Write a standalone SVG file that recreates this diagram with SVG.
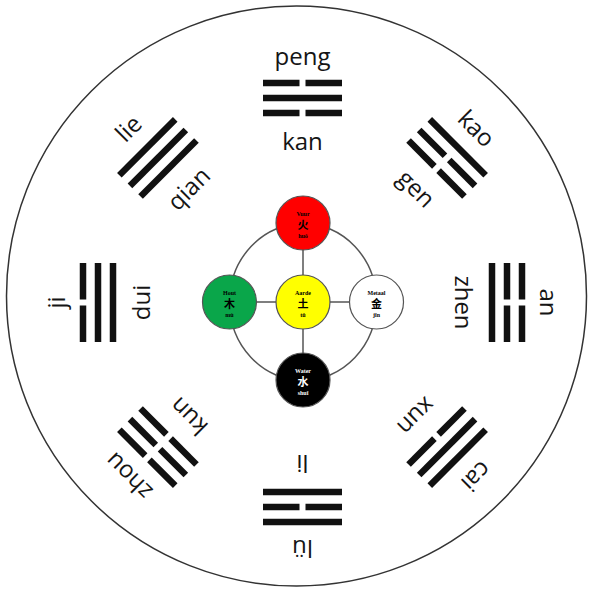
<svg xmlns="http://www.w3.org/2000/svg" xmlns:xlink="http://www.w3.org/1999/xlink" width="590" height="591" viewBox="0 0 590 591">
<style>
.bar{fill:#111}
.lbl{font-family:"Open Sans","Noto Sans",sans-serif;font-size:24px;fill:#151515;text-anchor:middle}
.conn{stroke:#555;stroke-width:1.5;fill:none}
.node{stroke:#555;stroke-width:1.2}
.nt{font-family:"Liberation Serif",serif;font-weight:bold;font-size:6px;text-anchor:middle}
.nc{font-family:"Noto Sans CJK SC","Noto Sans CJK TC",sans-serif;font-weight:bold;font-size:11px;text-anchor:middle}
</style>
<defs>
<g id="y"><rect class="bar" x="263" y="-3.25" width="79" height="6.5"/></g>
<g id="b"><rect class="bar" x="263" y="-3.25" width="36.5" height="6.5"/><rect class="bar" x="305.5" y="-3.25" width="36.5" height="6.5"/></g>
</defs>
<rect x="0" y="0" width="590" height="591" fill="#fff"/>
<circle cx="296.5" cy="296" r="290" fill="#fff" stroke="#333" stroke-width="1.5"/>

<g id="tri-kan" transform="rotate(0 302.5 302.5)">
<text class="lbl" x="302.5" y="65">peng</text>
<use xlink:href="#b" href="#b" y="83"/><use xlink:href="#y" href="#y" y="98"/><use xlink:href="#b" href="#b" y="113"/>
<text class="lbl" x="302.5" y="150">kan</text>
</g>
<g id="tri-gen" transform="rotate(45 302.5 302.5)">
<text class="lbl" x="302.5" y="65">kao</text>
<use href="#y" y="83"/><use href="#b" y="98"/><use href="#b" y="113"/>
<text class="lbl" x="302.5" y="150">gen</text>
</g>
<g id="tri-zhen" transform="rotate(90 302.5 302.5)">
<text class="lbl" x="302.5" y="65">an</text>
<use href="#b" y="83"/><use href="#b" y="98"/><use href="#y" y="113"/>
<text class="lbl" x="302.5" y="150">zhen</text>
</g>
<g id="tri-xun" transform="rotate(135 302.5 302.5)">
<text class="lbl" x="302.5" y="65">cai</text>
<use href="#y" y="83"/><use href="#y" y="98"/><use href="#b" y="113"/>
<text class="lbl" x="302.5" y="150">xun</text>
</g>
<g id="tri-li" transform="rotate(180 302.5 302.5)">
<text class="lbl" x="302.5" y="65">lü</text>
<use href="#y" y="83"/><use href="#b" y="98"/><use href="#y" y="113"/>
<text class="lbl" x="302.5" y="150">li</text>
</g>
<g id="tri-kun" transform="rotate(225 302.5 302.5)">
<text class="lbl" x="302.5" y="65">zhou</text>
<use href="#b" y="83"/><use href="#b" y="98"/><use href="#b" y="113"/>
<text class="lbl" x="302.5" y="150">kun</text>
</g>
<g id="tri-dui" transform="rotate(270 302.5 302.5)">
<text class="lbl" x="302.5" y="65">ji</text>
<use href="#b" y="83"/><use href="#y" y="98"/><use href="#y" y="113"/>
<text class="lbl" x="302.5" y="150">dui</text>
</g>
<g id="tri-qian" transform="rotate(315 302.5 302.5)">
<text class="lbl" x="302.5" y="65">lie</text>
<use href="#y" y="83"/><use href="#y" y="98"/><use href="#y" y="113"/>
<text class="lbl" x="302.5" y="150">qian</text>
</g>

<g id="connectors">
<ellipse class="conn" cx="303" cy="302" rx="73.5" ry="78.5"/>
<line class="conn" x1="303" y1="223" x2="303" y2="380"/>
<line class="conn" x1="229.5" y1="302" x2="376.5" y2="302"/>
</g>

<g id="node-fire">
<circle class="node" cx="303" cy="223" r="27" fill="#ff0000"/>
<text class="nt" x="303" y="216">Vuur</text>
<text class="nc" x="303" y="229">火</text>
<text class="nt" x="303" y="238">huǒ</text>
</g>
<g id="node-wood">
<circle class="node" cx="229.5" cy="302" r="27" fill="#0aa64a"/>
<text class="nt" x="229.5" y="295">Hout</text>
<text class="nc" x="229.5" y="308">木</text>
<text class="nt" x="229.5" y="317">mù</text>
</g>
<g id="node-earth">
<circle class="node" cx="303" cy="302" r="27" fill="#ffff00"/>
<text class="nt" x="303" y="295">Aarde</text>
<text class="nc" x="303" y="308">土</text>
<text class="nt" x="303" y="317">tǔ</text>
</g>
<g id="node-metal">
<circle class="node" cx="376.5" cy="302" r="27" fill="#ffffff"/>
<text class="nt" x="376.5" y="295">Metaal</text>
<text class="nc" x="376.5" y="308">金</text>
<text class="nt" x="376.5" y="317">jīn</text>
</g>
<g id="node-water">
<circle class="node" cx="303" cy="380" r="27" fill="#000000"/>
<text class="nt" x="303" y="373" fill="#fff">Water</text>
<text class="nc" x="303" y="386" fill="#fff">水</text>
<text class="nt" x="303" y="395" fill="#fff">shuǐ</text>
</g>
</svg>
